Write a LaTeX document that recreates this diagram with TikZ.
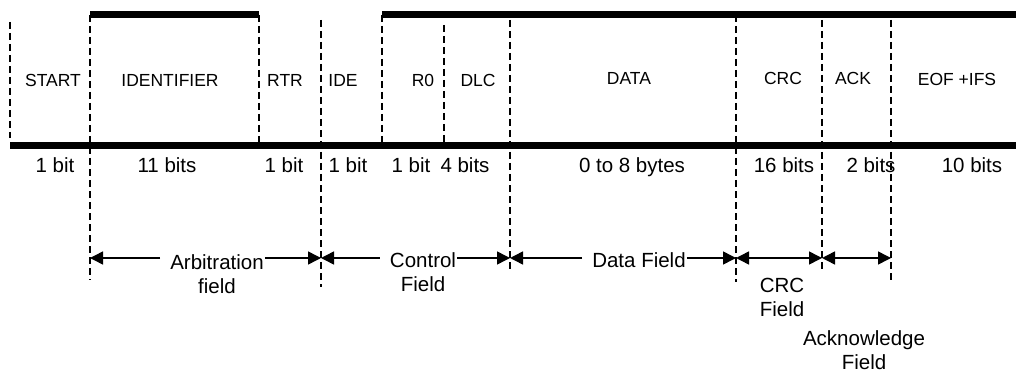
\documentclass[tikz,border=0pt]{standalone}
\usepackage{fontspec}
\setmainfont{Liberation Sans}
\usetikzlibrary{arrows.meta}
\begin{document}
\begin{tikzpicture}[x=1pt,y=-1pt,
  field/.style={font=\fontsize{17.5}{21}\selectfont, inner sep=0pt, anchor=center},
  size/.style={font=\fontsize{20.5}{25}\selectfont, inner sep=0pt, anchor=base},
  group/.style={font=\fontsize{20.5}{24}\selectfont, inner sep=0pt, anchor=north, align=center},
  divider/.style={line width=2pt, dash pattern=on 7pt off 4pt},
  level/.style={line width=7pt},
  tip/.tip={Triangle[length=13pt,width=13pt]},
  span/.style={line width=1.5pt, -tip},
  fromleft/.style={span, shorten <=10pt},
  fromright/.style={span, shorten <=1pt},
]
\useasboundingbox (0,0) rectangle (1016,374);

% bus levels
\coordinate (idL) at (90,15);   \coordinate (idR) at (259,15);
\coordinate (ctL) at (382,15);  \coordinate (ctR) at (1016,15);
\coordinate (bL)  at (10,146);  \coordinate (bR)  at (1016,146);
\draw[level] (idL) -- (idR);
\draw[level] (ctL) -- (ctR);
\draw[level] (bL) -- (bR);

% field boundaries
\foreach \n/\x/\ya/\yb in {1/10/22/138, 2/90/15/280, 3/259/15/142, 4/321/20/287,
    5/382/15/147, 6/444/25/147, 7/510/20/272, 8/736/15/282, 9/822/20/270, 10/891/20/283}{
  \coordinate (d\n t) at (\x,\ya);
  \coordinate (d\n b) at (\x,\yb);
  \coordinate (a\n) at (\x,258);
  \draw[divider] (d\n t) -- (d\n b);
}

% field names
\node[field] (start) at (53,80)  {START};
\node[field] (ident) at (170,80) {IDENTIFIER};
\node[field] (rtr)   at (285,80) {RTR};
\node[field] (ide)   at (343,80) {IDE};
\node[field] (rzero) at (423,80) {R0};
\node[field] (dlc)   at (478,80) {DLC};
\node[field] (data)  at (629,78) {DATA};
\node[field] (crc)   at (783,78) {CRC};
\node[field] (ack)   at (853,78) {ACK};
\node[field] (eof)   at (957,79) {EOF +IFS};

% field lengths
\node[size] (s1)  at (55,172)  {1 bit};
\node[size] (s2)  at (167,172) {11 bits};
\node[size] (s3)  at (284,172) {1 bit};
\node[size] (s4)  at (348,172) {1 bit};
\node[size] (s5)  at (411,172) {1 bit};
\node[size] (s6)  at (465,172) {4 bits};
\node[size] (s7)  at (632,172) {0 to 8 bytes};
\node[size] (s8)  at (784,172) {16 bits};
\node[size] (s9)  at (871,172) {2 bits};
\node[size] (s10) at (972,172) {10 bits};

% frame sections
\node[group] (arb) at (217,254) {Arbitration\\field};
\node[group] (ctl) at (423,252) {Control\\Field};
\node[group] (dat) at (639,252) {Data Field};
\node[group] (crcf) at (782,278) {CRC\\Field};
\node[group] (ackf) at (864,330) {Acknowledge\\Field};

\draw[fromleft]  (a2 -| arb.west) -- (a2);
\draw[fromright] (a4 -| arb.east) -- (a4);
\draw[fromleft]  (a4 -| ctl.west) -- (a4);
\draw[fromright] (a7 -| ctl.east) -- (a7);
\draw[fromleft]  (a7 -| dat.west) -- (a7);
\draw[fromright] (a8 -| dat.east) -- (a8);
\draw[span, tip-tip] (a8) -- (a9);
\draw[span, tip-tip] (a9) -- (a10);
\end{tikzpicture}
\end{document}
